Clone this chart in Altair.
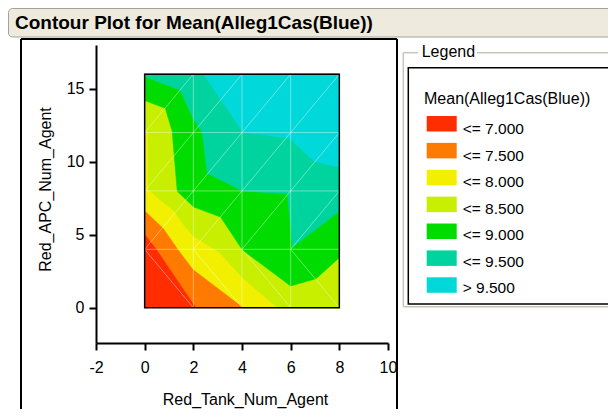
import altair as alt
import pandas as pd

FONT = "Liberation Sans"

# ---- data -------------------------------------------------------------
# design-point grid (triangulation nodes of the contour plot)
x_nodes = [0, 2, 4, 6, 8]
y_nodes = [0, 4, 8, 12, 16]

levels = [7.0, 7.5, 8.0, 8.5, 9.0, 9.5]
band_labels = ["<= 7.000", "<= 7.500", "<= 8.000", "<= 8.500", "<= 9.000", "<= 9.500", "> 9.500"]
band_colors = ["#FF2D00", "#FF7A00", "#F2F000", "#C8EE00", "#00DC00", "#00D49E", "#00D8DA"]

# contour lines (x, y), one per level
c700_x = [0.0, 0.5, 2.12]
c700_y = [5.07, 4.0, 0.0]
c750_x = [0.0, 0.78, 1.38, 2.0, 4.08]
c750_y = [6.67, 5.45, 4.0, 2.63, 0.0]
c800_x = [0.0, 0.14, 0.15, 0.7, 1.2, 1.6, 2.0, 2.3, 3.1, 4.02, 5.46]
c800_y = [12.4, 12.0, 8.1, 7.3, 6.65, 5.7, 4.9, 4.6, 3.75, 2.05, 0.0]
c850_x = [0.0, 0.85, 1.13, 1.34, 2.02, 3.12, 4.02, 6.0, 7.04, 8.0]
c850_y = [14.2, 13.66, 12.1, 7.97, 6.9, 6.21, 3.95, 1.49, 1.99, 3.43]
c900_x = [0.0, 1.47, 2.02, 2.37, 2.57, 4.02, 5.87, 6.08, 8.0]
c900_y = [15.85, 14.9, 12.86, 12.0, 9.22, 8.0, 7.81, 4.16, 6.6]
c950_x = [2.43, 4.02, 5.94, 6.97, 8.0]
c950_y = [16.0, 12.05, 11.62, 10.03, 9.62]

contours = [(c700_x, c700_y), (c750_x, c750_y), (c800_x, c800_y),
            (c850_x, c850_y), (c900_x, c900_y), (c950_x, c950_y)]

x_ticks = [-2, 0, 2, 4, 6, 8, 10]
y_ticks = [0, 5, 10, 15]

# ---- scales / axes ------------------------------------------------------
xmin, xmax = min(x_nodes), max(x_nodes)
ymin, ymax = min(y_nodes), max(y_nodes)

x_axis = alt.Axis(values=x_ticks, title="Red_Tank_Num_Agent", grid=False,
                  tickSize=7, tickWidth=2, tickColor="black",
                  domainWidth=2, domainColor="black",
                  labelFont=FONT, labelFontSize=16, labelColor="black",
                  labelPadding=9, labelExpr="'' + datum.value",
                  labelFlush=False, labelOverlap=False,
                  titleFont=FONT, titleFontSize=16, titleFontWeight="normal",
                  titleColor="black", titleX=149, titleY=56,
                  titleBaseline="middle", titleAlign="center")
y_axis = alt.Axis(values=y_ticks, title="Red_APC_Num_Agent", grid=False,
                  tickSize=7, tickWidth=2, tickColor="black",
                  domainWidth=2, domainColor="black",
                  labelFont=FONT, labelFontSize=16, labelColor="black",
                  labelPadding=5, labelExpr="'' + datum.value",
                  labelFlush=False, labelOverlap=False,
                  titleFont=FONT, titleFontSize=16, titleFontWeight="normal",
                  titleColor="black", titleX=-51, titleY=144, titleAngle=270,
                  titleBaseline="middle", titleAlign="center")

X = alt.X("x:Q", scale=alt.Scale(domain=[-2, 10], nice=False, zero=False), axis=x_axis)
Y = alt.Y("y:Q", scale=alt.Scale(domain=[-2.42, 18.0], nice=False, zero=False), axis=y_axis)

layers = []

# lowest band: whole region
base_df = pd.DataFrame({"x": [xmin], "x2": [xmax], "y": [ymin], "y2": [ymax]})
layers.append(alt.Chart(base_df).mark_rect(color=band_colors[0]).encode(
    x=X, x2="x2:Q", y=Y, y2="y2:Q"))


def upper_region(xs, ys):
    pts = list(zip(xs, ys))
    ex, ey = pts[-1]
    if ey <= ymin and ex < xmax:
        pts.append((xmax, ymin))
    pts.append((xmax, ymax))
    sx, sy = pts[0]
    if sx <= xmin and sy < ymax:
        pts.append((xmin, ymax))
    pts.append(pts[0])
    return pts


for k, (xs, ys) in enumerate(contours):
    pts = upper_region(xs, ys)
    df = pd.DataFrame({"x": [p[0] for p in pts], "y": [p[1] for p in pts],
                       "i": list(range(len(pts)))})
    col = band_colors[k + 1]
    layers.append(alt.Chart(df).mark_line(fill=col, stroke=col, strokeWidth=0.6,
                                          interpolate="linear").encode(
        x=X, y=Y, order=alt.Order("i:Q")))

# triangulation lines
seg = []
for xv in x_nodes:
    seg.append((xv, ymin, xv, ymax))
for yv in y_nodes:
    seg.append((xmin, yv, xmax, yv))
for i in range(len(x_nodes) - 1):
    seg.append((x_nodes[i], y_nodes[1], x_nodes[i + 1], y_nodes[0]))
    for j in range(1, len(y_nodes) - 1):
        seg.append((x_nodes[i], y_nodes[j], x_nodes[i + 1], y_nodes[j + 1]))
seg_df = pd.DataFrame(seg, columns=["x", "y", "x2", "y2"])
layers.append(alt.Chart(seg_df).mark_rule(color="white", opacity=0.4, strokeWidth=1).encode(
    x=X, y=Y, x2="x2:Q", y2="y2:Q"))

# outline of the contour region
layers.append(alt.Chart(base_df).mark_rect(fillOpacity=0, stroke="black", strokeWidth=1.5).encode(
    x=X, x2="x2:Q", y=Y, y2="y2:Q"))

# ---- decorations (frame, title bar, legend) --------------------------
one = pd.DataFrame({"a": [0]})


def rect(x, y, x2, y2, **kw):
    return alt.Chart(one).mark_rect(**kw).encode(
        x=alt.value(x), y=alt.value(y), x2=alt.value(x2), y2=alt.value(y2))


def rule(x, y, x2, y2, **kw):
    return alt.Chart(one).mark_rule(**kw).encode(
        x=alt.value(x), y=alt.value(y), x2=alt.value(x2), y2=alt.value(y2))


def text(x, y, s, **kw):
    opts = dict(font=FONT, fontSize=16, color="black", align="left", baseline="alphabetic")
    opts.update(kw)
    return alt.Chart(one).mark_text(text=s, **opts).encode(x=alt.value(x), y=alt.value(y))


# title bar
layers.append(rect(-87.5, -36.5, 560, -8, fill="#EEEBDE", stroke="#A4A29A",
                   strokeWidth=1, cornerRadius=4))
layers.append(text(-81, -16.5, "Contour Plot for Mean(Alleg1Cas(Blue))",
                   fontWeight="bold", fontSize=19))

# outer frame
layers.append(rule(-75, -6, -75, 380, color="black", strokeWidth=2))
layers.append(rule(-75, -6, 301, -6, color="black", strokeWidth=2))
layers.append(rule(301, -6, 301, 380, color="black", strokeWidth=2))

# legend group box
gb = dict(color="#C8C6BA", strokeWidth=1.5)
layers.append(rule(307.3, 7.7, 307.3, 261.7, **gb))
layers.append(rule(307.3, 261.7, 560, 261.7, **gb))
layers.append(rule(307.3, 7.7, 322, 7.7, **gb))
layers.append(rule(381, 7.7, 560, 7.7, **gb))
layers.append(text(325.7, 12.3, "Legend"))
layers.append(rect(312.3, 22.7, 540, 259, fill="white", stroke="black", strokeWidth=1.5))
layers.append(text(328, 59, "Mean(Alleg1Cas(Blue))"))
for i, (lab, col) in enumerate(zip(band_labels, band_colors)):
    top = 71 + 26.88 * i
    layers.append(rect(330.7, top, 360.7, top + 15.5, fill=col))
    layers.append(text(366.7, 89 + 26.55 * i, lab, fontSize=15.5))

chart = alt.layer(*layers).properties(
    width=292, height=298,
    autosize=alt.AutoSizeParams(type="none"),
    padding={"left": 88, "top": 37, "right": 220, "bottom": 66},
    background="white",
).configure_view(stroke=None)

chart.save("out.html", embed_options={"renderer": "svg", "actions": False})
